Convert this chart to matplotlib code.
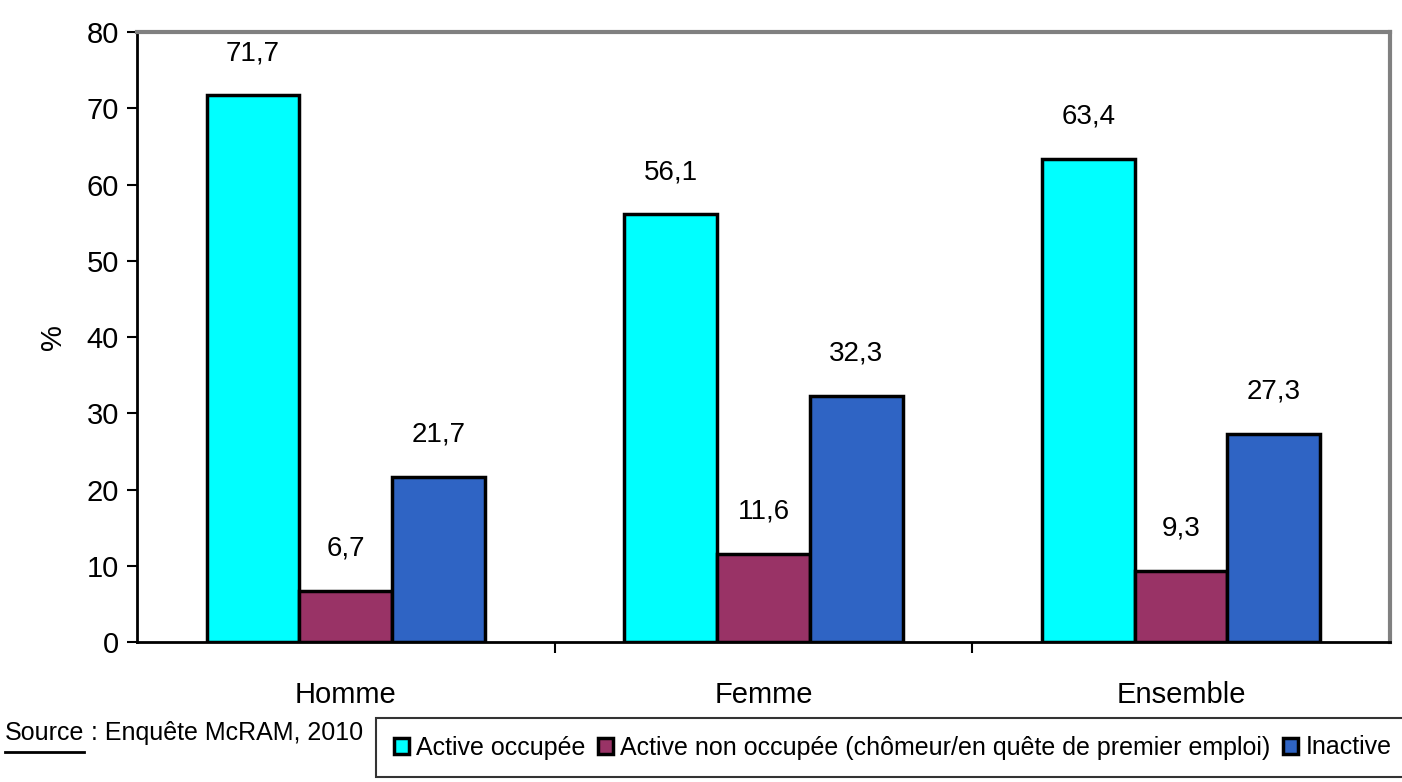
import matplotlib
matplotlib.use("Agg")
import matplotlib.pyplot as plt
import numpy as np

plt.rcParams['font.family'] = ['Liberation Sans', 'DejaVu Sans']

# categories and series (% of population)
groupes = ['Homme', 'Femme', 'Ensemble']
series = ['Active occupée',
          'Active non occupée (chômeur/en quête de premier emploi)',
          'Inactive']
occupee = [71.7, 56.1, 63.4]
non_occupee = [6.7, 11.6, 9.3]
inactive = [21.7, 32.3, 27.3]
couleurs = ['#00FFFF', '#993366', '#2F64C4']

fig = plt.figure(figsize=(14.02, 7.82), dpi=100)
ax = fig.add_axes([0.0977, 0.179, 0.8937, 0.780])

x = np.arange(len(groupes))
w = 0.222
for i, (vals, lab, c) in enumerate(zip([occupee, non_occupee, inactive], series, couleurs)):
    pos = x + (i - 1) * w
    ax.bar(pos, vals, w, color=c, edgecolor='black', linewidth=2.5, label=lab)
    for p, v in zip(pos, vals):
        ax.annotate(('%.1f' % v).replace('.', ','), (p, v), xytext=(0, 21),
                    textcoords='offset points', ha='center', va='bottom', fontsize=20)

ax.set_xlim(-0.5, 2.5)
ax.set_ylim(0, 80)
ax.set_yticks(range(0, 81, 10))
ax.set_xticks([0.5, 1.5])
ax.set_xticklabels([])
ax.set_xticks(x, minor=True)
ax.set_xticklabels(groupes, minor=True)
ax.tick_params(axis='x', which='minor', length=0, pad=28, labelsize=21)
ax.tick_params(axis='x', which='major', length=8, width=1.5, direction='out')
ax.tick_params(axis='y', length=7, width=1.5, labelsize=21, pad=6)
ax.set_ylabel('%', fontsize=21, labelpad=14)

for s in ['top', 'right']:
    ax.spines[s].set_color('#808080')
    ax.spines[s].set_linewidth(3)
for s in ['left', 'bottom']:
    ax.spines[s].set_color('black')
    ax.spines[s].set_linewidth(2)

# source note with underlined "Source"
y_src = 1 - 733 / 782
src = fig.text(5 / 1402, y_src, 'Source', fontsize=18, va='center', ha='left')
fig.canvas.draw()
bb = src.get_window_extent().transformed(fig.transFigure.inverted())
fig.text(bb.x1, y_src, ' : Enquête McRAM, 2010', fontsize=18, va='center', ha='left')
fig.add_artist(plt.Line2D([bb.x0, bb.x1], [1 - 752 / 782, 1 - 752 / 782],
                          color='black', lw=2))

leg = fig.legend(loc='upper left', bbox_to_anchor=(376 / 1402, 1 - 718 / 782), ncol=3,
                 fontsize=18, frameon=True, fancybox=False, edgecolor='black',
                 handlelength=0.6, handleheight=0.6, handletextpad=0.3,
                 columnspacing=0.5, borderpad=0.7, borderaxespad=0)
leg.get_frame().set_linewidth(1.5)

fig.savefig('out.png', dpi=100)
